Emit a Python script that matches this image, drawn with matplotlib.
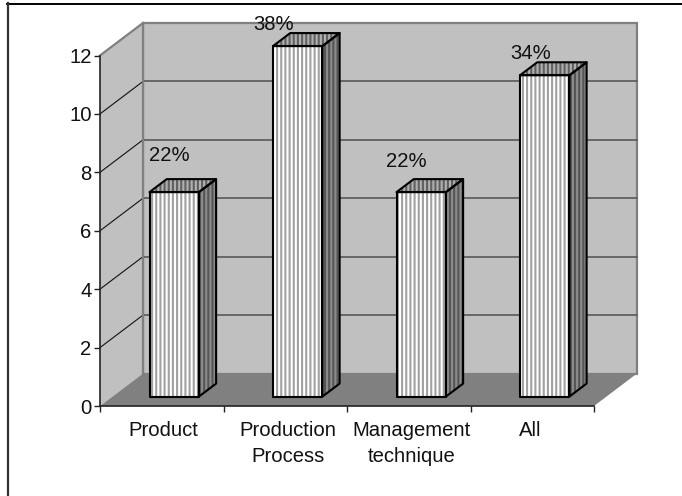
import matplotlib
matplotlib.use("Agg")
import matplotlib.pyplot as plt
from matplotlib.lines import Line2D
from matplotlib.patches import Polygon
from matplotlib.transforms import ScaledTranslation

categories = ["Product", "Production\nProcess", "Management\ntechnique", "All"]
values = [7, 12, 7, 11]
percent_labels = ["22%", "38%", "22%", "34%"]
y_ticks = [0, 2, 4, 6, 8, 10, 12]

FIG_W, FIG_H = 682, 496
AX_LEFT, AX_RIGHT = 100, 594
AX_TOP, AX_BOTTOM = 55.5, 406

# oblique depth: one full unit of depth moves this far on screen
DEPTH_DX_PX = 43
DEPTH_DY_PX = 32.5
BAR_WIDTH = 0.4
BAR_D0, BAR_D1 = 0.29, 0.69

WALL = "#c0c0c0"
FLOOR = "#808080"

plt.rcParams["font.family"] = ["Liberation Sans", "DejaVu Sans"]
plt.rcParams["font.size"] = 14.6
plt.rcParams["hatch.linewidth"] = 1.5

fig = plt.figure(figsize=(FIG_W / 100, FIG_H / 100), dpi=100, facecolor="white")
ax = fig.add_axes([AX_LEFT / FIG_W, 1 - AX_BOTTOM / FIG_H,
                   (AX_RIGHT - AX_LEFT) / FIG_W, (AX_BOTTOM - AX_TOP) / FIG_H])
ax.set_xlim(0, len(categories))
ax.set_ylim(0, 12)
ax.patch.set_visible(False)

depth_dx = DEPTH_DX_PX / (AX_RIGHT - AX_LEFT) * len(categories)
depth_dy = DEPTH_DY_PX / (AX_BOTTOM - AX_TOP) * 12


def project(x, y, d):
    return x + d * depth_dx, y + d * depth_dy


def face(points, **kw):
    p = Polygon([project(*pt) for pt in points], closed=True, clip_on=False, **kw)
    ax.add_patch(p)
    return p


n = len(categories)
top = y_ticks[-1]

# walls and floor
face([(0, 0, 1), (n, 0, 1), (n, top, 1), (0, top, 1)], fc=WALL, ec="#808080", lw=1.6, zorder=1)
face([(0, 0, 0), (0, 0, 1), (0, top, 1), (0, top, 0)], fc=WALL, ec="none", zorder=1)
face([(0, 0, 0), (n, 0, 0), (n, 0, 1), (0, 0, 1)], fc=FLOOR, ec="none", zorder=1.5)

# gridlines wrap from the side wall onto the back wall
for t in y_ticks[1:-1]:
    x0, y0 = project(0, t, 0)
    x1, y1 = project(0, t, 1)
    x2, y2 = project(n, t, 1)
    ax.plot([x0, x1], [y0, y1], color="#111111", lw=0.8, clip_on=False, zorder=2)
    ax.plot([x1, x2], [y1, y2], color="#606060", lw=1.3, clip_on=False, zorder=2)
x0, y0 = project(0, top, 0)
x1, y1 = project(0, top, 1)
ax.plot([x0, x1], [y0, y1], color="#808080", lw=1.6, clip_on=False, zorder=2)
ax.plot([x1, x1], [depth_dy, y1], color="#808080", lw=1.6, clip_on=False, zorder=2)

# bars
label_gaps_px = [37, 22, 31, 22]
label_shifts_px = [-5, -24, -15, -14]
for i, v in enumerate(values):
    xl = i + 0.5 - BAR_WIDTH / 2
    xr = i + 0.5 + BAR_WIDTH / 2
    front = [(xl, 0, BAR_D0), (xr, 0, BAR_D0), (xr, v, BAR_D0), (xl, v, BAR_D0)]
    side = [(xr, 0, BAR_D0), (xr, 0, BAR_D1), (xr, v, BAR_D1), (xr, v, BAR_D0)]
    roof = [(xl, v, BAR_D0), (xr, v, BAR_D0), (xr, v, BAR_D1), (xl, v, BAR_D1)]
    for pts, fc, hc, hatch in [(front, "white", "#a0a0a0", "||||"),
                               (side, "#555555", "#8c8c8c", "||||"),
                               (roof, "#b0b0b0", "#606060", "||||")]:
        face(pts, fc=fc, ec=hc, hatch=hatch, lw=0, zorder=3 + i)
        face(pts, fc="none", ec="black", lw=1.5, joinstyle="round", zorder=3.5 + i)

    bx, by = project(i + 0.5, v, BAR_D0)
    ax.annotate(percent_labels[i], (bx, by), xytext=(label_shifts_px[i] * 0.72, label_gaps_px[i] * 0.72),
                textcoords="offset points", ha="center", va="center",
                color="#111111", zorder=10, annotation_clip=False)

# axes on the front plane
for side in ["top", "right"]:
    ax.spines[side].set_visible(False)
for side in ["left", "bottom"]:
    ax.spines[side].set_color("#222222")
    ax.spines[side].set_linewidth(1.2)
    ax.spines[side].set_zorder(2.5)
ax.set_yticks(y_ticks)
ax.set_xticks(range(n + 1))
ax.set_xticklabels([])
ax.set_xticks([i + 0.5 for i in range(n)], minor=True)
tick_labels = ax.set_xticklabels(categories, minor=True, linespacing=1.5)
ax.tick_params(axis="y", length=4, width=1, color="#222222", pad=2, labelcolor="#111111")
ax.tick_params(axis="x", which="major", length=4, width=1, color="#222222")
ax.tick_params(axis="x", which="minor", length=0, pad=10.5, labelcolor="#111111")

# category labels sit slightly off their tick centres
tick_nudges_px = [2, 2.5, 3, -2]
for lab, dx in zip(tick_labels, tick_nudges_px):
    lab.set_transform(lab.get_transform() + ScaledTranslation(dx / 100, 0, fig.dpi_scale_trans))

# page rules along the top and left edges
fig.add_artist(Line2D([7 / FIG_W, 1], [1 - 3.5 / FIG_H] * 2, color="black", lw=1.4))
fig.add_artist(Line2D([8 / FIG_W] * 2, [1 - 3 / FIG_H, 0], color="#333333", lw=1.6))

fig.savefig("out.png", dpi=100)
